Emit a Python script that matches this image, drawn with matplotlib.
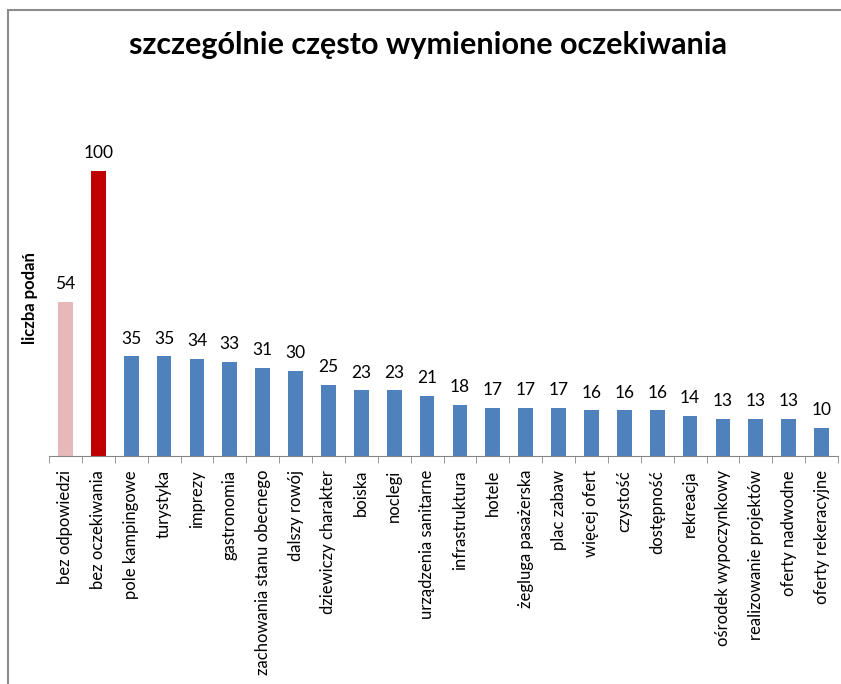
import matplotlib

matplotlib.use("Agg")
import matplotlib.pyplot as plt
from matplotlib.patches import Rectangle

CATEGORIES = [
    "bez odpowiedzi", "bez oczekiwania", "pole kampingowe", "turystyka",
    "imprezy", "gastronomia", "zachowania stanu obecnego", "dalszy rowój",
    "dziewiczy charakter", "boiska", "noclegi", "urządzenia sanitarne",
    "infrastruktura", "hotele", "żegluga pasażerska", "plac zabaw",
    "więcej ofert", "czystość", "dostępność", "rekreacja",
    "ośrodek wypoczynkowy", "realizowanie projektów", "oferty nadwodne",
    "oferty rekeracyjne",
]
VALUES = [54, 100, 35, 35, 34, 33, 31, 30, 25, 23, 23, 21, 18, 17, 17, 17,
          16, 16, 16, 14, 13, 13, 13, 10]
TITLE = "szczególnie często wymienione oczekiwania"
YLABEL = "liczba podań"

PINK, RED, BLUE = "#E6B9B8", "#C00000", "#4F81BD"
colors = [PINK, RED] + [BLUE] * (len(VALUES) - 2)

plt.rcParams["font.family"] = ["Lato", "DejaVu Sans"]

W, H = 841, 684
fig = plt.figure(figsize=(W / 100, H / 100), dpi=100)

# gray outer frame (runs off the right and bottom edges)
fig.patches.append(Rectangle((8 / W, -0.1), 1.0, (H - 10) / H + 0.1,
                             transform=fig.transFigure, fill=False,
                             edgecolor="#8c8c8c", linewidth=1.5))

ymax = 110
ax = fig.add_axes([49 / W, (H - 456) / H, (838 - 49) / W, 285 * ymax / 100 / H])
x = range(len(VALUES))
ax.bar(x, VALUES, width=0.45, color=colors)
for xi, v in zip(x, VALUES):
    ax.annotate(str(v), (xi, v), xytext=(0, 7), textcoords="offset points",
                ha="center", va="bottom", fontsize=12.5)

ax.set_xlim(-0.5, len(VALUES) - 0.5)
ax.set_ylim(0, ymax)
ax.set_xticks(list(x))
ax.set_xticklabels(CATEGORIES, rotation=90, fontsize=12, va="top")
ax.set_xticks([i - 0.5 for i in range(len(VALUES) + 1)], minor=True)
ax.tick_params(axis="x", which="major", length=0, pad=10)
ax.tick_params(axis="x", which="minor", length=5, color="#868686")
ax.set_yticks([])
for s in ("top", "right", "left"):
    ax.spines[s].set_visible(False)
ax.spines["bottom"].set_color("#868686")
ax.set_facecolor("none")

fig.text(428 / W, (H - 45) / H, TITLE, ha="center", va="center",
         fontsize=22, fontweight="bold")
fig.text(30 / W, (H - 298) / H, YLABEL, ha="center", va="center",
         rotation=90, fontsize=12, fontweight="bold")

fig.savefig("out.png", dpi=100)
